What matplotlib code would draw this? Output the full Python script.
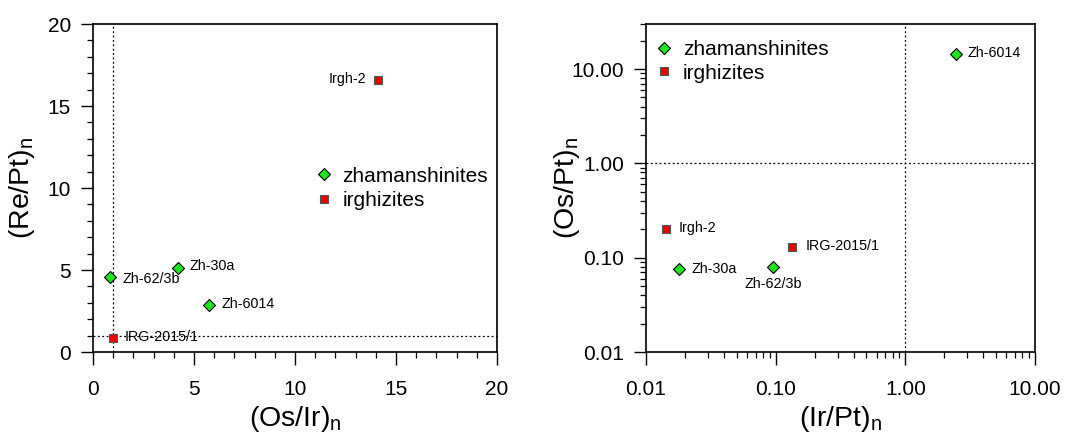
import matplotlib.pyplot as plt
from matplotlib.ticker import MultipleLocator, LogLocator, FormatStrFormatter, NullFormatter

plt.rcParams['font.family'] = ['Liberation Sans', 'DejaVu Sans']
plt.rcParams['mathtext.fontset'] = 'custom'
plt.rcParams['mathtext.rm'] = 'Liberation Sans'
plt.rcParams['mathtext.it'] = 'Liberation Sans'

# (Os/Ir)n vs (Re/Pt)n
zh_names = ['Zh-62/3b', 'Zh-30a', 'Zh-6014']
zh_os_ir = [0.84, 4.19, 5.73]
zh_re_pt = [4.55, 5.10, 2.85]
irg_names = ['Irgh-2', 'IRG-2015/1']
irg_os_ir = [14.1, 0.97]
irg_re_pt = [16.6, 0.83]

# (Ir/Pt)n vs (Os/Pt)n
zh_ir_pt = [0.096, 0.0181, 2.45]
zh_os_pt = [0.080, 0.0753, 14.4]
irg_ir_pt = [0.01426, 0.134]
irg_os_pt = [0.203, 0.129]

GREEN = '#1ee61e'
RED = '#e80000'

fig = plt.figure(figsize=(10.82, 4.34), dpi=100)
ax1 = fig.add_axes([93 / 1082, 82 / 434, 404 / 1082, 328 / 434])
ax2 = fig.add_axes([646 / 1082, 82 / 434, 389 / 1082, 328 / 434])


def style(ax):
    for s in ax.spines.values():
        s.set_linewidth(1.2)
    ax.tick_params(which='major', direction='out', length=9, width=1.0,
                   labelsize=15)
    ax.tick_params(axis='x', which='major', pad=11)
    ax.tick_params(axis='y', which='major', pad=7)
    ax.tick_params(which='minor', direction='out', length=4.5, width=0.9)


def marks(ax, zx, zy, ix, iy):
    ax.plot(zx, zy, 'D', ms=6, mfc=GREEN, mec='black', mew=0.8,
            ls='none', label='zhamanshinites', zorder=3)
    ax.plot(ix, iy, 's', ms=5.5, mfc=RED, mec='#555555', mew=0.8,
            ls='none', label='irghizites', zorder=3)


def tag(ax, text, x, y, dx, dy, ha='left'):
    ax.annotate(text, (x, y), xytext=(dx, dy), textcoords='offset pixels',
                ha=ha, va='center', fontsize=10.3)


def legend(ax, anchor, spacing):
    ax.legend(loc='upper left', bbox_to_anchor=anchor, frameon=False,
              fontsize=15, handletextpad=0.5, labelspacing=spacing,
              borderpad=0, borderaxespad=0, handlelength=0.8)


# левий графік
marks(ax1, zh_os_ir, zh_re_pt, irg_os_ir, irg_re_pt)
ax1.axvline(1, color='black', ls=(0, (1.5, 2)), lw=0.9, zorder=1)
ax1.axhline(1, color='black', ls=(0, (1.5, 2)), lw=0.9, zorder=1)
ax1.set_xlim(0, 20)
ax1.set_ylim(0, 20)
ax1.xaxis.set_major_locator(MultipleLocator(5))
ax1.xaxis.set_minor_locator(MultipleLocator(1))
ax1.yaxis.set_major_locator(MultipleLocator(5))
ax1.yaxis.set_minor_locator(MultipleLocator(1))
style(ax1)
ax1.set_xlabel(r'(Os/Ir)$_\mathrm{n}$', fontsize=20.5)
ax1.set_ylabel(r'(Re/Pt)$_\mathrm{n}$', fontsize=20.5)
ax1.xaxis.set_label_coords(0.5, -0.16)
ax1.yaxis.set_label_coords(-0.138, 0.5)

tag(ax1, zh_names[0], zh_os_ir[0], zh_re_pt[0], 13, -2)
tag(ax1, zh_names[1], zh_os_ir[1], zh_re_pt[1], 12, 2)
tag(ax1, zh_names[2], zh_os_ir[2], zh_re_pt[2], 13, 1)
tag(ax1, irg_names[0], irg_os_ir[0], irg_re_pt[0], -12, 1, ha='right')
tag(ax1, irg_names[1], irg_os_ir[1], irg_re_pt[1], 12, 1)

legend(ax1, (0.55, 0.565), 0.27)

# правий графік
marks(ax2, zh_ir_pt, zh_os_pt, irg_ir_pt, irg_os_pt)
ax2.set_xscale('log')
ax2.set_yscale('log')
ax2.axvline(1, color='black', ls=(0, (1.5, 2)), lw=0.9, zorder=1)
ax2.axhline(1, color='black', ls=(0, (1.5, 2)), lw=0.9, zorder=1)
ax2.set_xlim(0.01, 10)
ax2.set_ylim(0.01, 30)
for axis in (ax2.xaxis, ax2.yaxis):
    axis.set_major_locator(LogLocator(base=10, numticks=10))
    axis.set_minor_locator(LogLocator(base=10, subs=range(2, 10), numticks=10))
    axis.set_major_formatter(FormatStrFormatter('%.2f'))
    axis.set_minor_formatter(NullFormatter())
style(ax2)
ax2.set_xlabel(r'(Ir/Pt)$_\mathrm{n}$', fontsize=20.5)
ax2.set_ylabel(r'(Os/Pt)$_\mathrm{n}$', fontsize=20.5)
ax2.xaxis.set_label_coords(0.5, -0.16)
ax2.yaxis.set_label_coords(-0.165, 0.5)

tag(ax2, zh_names[0], zh_ir_pt[0], zh_os_pt[0], 0, -17, ha='center')
tag(ax2, zh_names[1], zh_ir_pt[1], zh_os_pt[1], 12, 0)
tag(ax2, zh_names[2], zh_ir_pt[2], zh_os_pt[2], 12, 1)
tag(ax2, irg_names[0], irg_ir_pt[0], irg_os_pt[0], 13, 1)
tag(ax2, irg_names[1], irg_ir_pt[1], irg_os_pt[1], 13, 1)

legend(ax2, (0.025, 0.95), 0.2)

fig.savefig('out.png', dpi=100)
